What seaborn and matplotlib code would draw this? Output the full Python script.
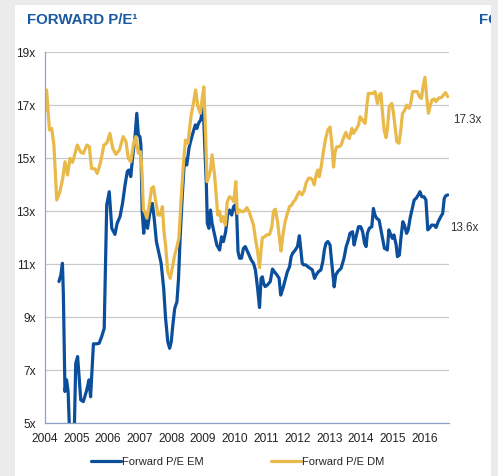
import numpy as np
import pandas as pd
import matplotlib
matplotlib.use('Agg')
import matplotlib.pyplot as plt
from matplotlib.patches import Rectangle
import seaborn as sns

# values (decimal year, P/E multiple)
em_year = [2004.45, 2004.51, 2004.56, 2004.59, 2004.64, 2004.69, 2004.74, 2004.79, 2004.86, 2004.93,
           2004.98, 2005.04, 2005.14, 2005.22, 2005.33, 2005.40, 2005.45, 2005.54, 2005.64, 2005.72,
           2005.80, 2005.88, 2005.96, 2006.04, 2006.12, 2006.22, 2006.29, 2006.38, 2006.46, 2006.54,
           2006.61, 2006.66, 2006.72, 2006.78, 2006.85, 2006.91, 2006.96, 2007.01, 2007.04, 2007.08,
           2007.13, 2007.17, 2007.21, 2007.25, 2007.32, 2007.40, 2007.46, 2007.53, 2007.60, 2007.68,
           2007.76, 2007.82, 2007.89, 2007.95, 2008.00, 2008.05, 2008.11, 2008.18, 2008.23, 2008.28,
           2008.35, 2008.42, 2008.49, 2008.56, 2008.61, 2008.68, 2008.76, 2008.81, 2008.86, 2008.93,
           2009.00, 2009.03, 2009.07, 2009.11, 2009.14, 2009.19, 2009.24, 2009.29, 2009.37, 2009.44,
           2009.53, 2009.59, 2009.65, 2009.72, 2009.78, 2009.84, 2009.91, 2009.97, 2010.02, 2010.07,
           2010.11, 2010.16, 2010.22, 2010.28, 2010.34, 2010.39, 2010.46, 2010.53, 2010.60, 2010.66,
           2010.73, 2010.79, 2010.84, 2010.88, 2010.92, 2010.97, 2011.04, 2011.13, 2011.20, 2011.26,
           2011.34, 2011.41, 2011.46, 2011.53, 2011.60, 2011.67, 2011.74, 2011.79, 2011.84, 2011.92,
           2011.99, 2012.05, 2012.09, 2012.14, 2012.18, 2012.25, 2012.32, 2012.39, 2012.46, 2012.53,
           2012.58, 2012.65, 2012.73, 2012.79, 2012.84, 2012.89, 2012.95, 2013.02, 2013.07, 2013.15,
           2013.20, 2013.28, 2013.37, 2013.46, 2013.53, 2013.60, 2013.65, 2013.73, 2013.78, 2013.84,
           2013.92, 2013.99, 2014.05, 2014.11, 2014.16, 2014.20, 2014.26, 2014.34, 2014.39, 2014.44,
           2014.49, 2014.57, 2014.62, 2014.68, 2014.74, 2014.79, 2014.83, 2014.88, 2014.94, 2014.99,
           2015.04, 2015.11, 2015.15, 2015.21, 2015.26, 2015.32, 2015.37, 2015.44, 2015.49, 2015.55,
           2015.62, 2015.68, 2015.74, 2015.81, 2015.86, 2015.92, 2015.99, 2016.05, 2016.11, 2016.16,
           2016.23, 2016.31, 2016.37, 2016.44, 2016.52, 2016.58, 2016.63, 2016.68, 2016.74]
em_pe = [10.35, 10.6, 11.04, 9.84, 6.2, 6.64, 6.2, 4.5, 4.3, 4.4,
         7.26, 7.52, 5.88, 5.82, 6.26, 6.64, 6.0, 8.0, 8.0, 8.02,
         8.27, 8.58, 13.24, 13.74, 12.36, 12.13, 12.55, 12.8, 13.3, 14.0,
         14.5, 14.56, 14.31, 15.06, 15.75, 16.7, 15.88, 15.82, 15.5, 12.99,
         12.17, 12.86, 12.61, 12.36, 12.92, 13.3, 12.74, 11.86, 11.48, 11.04,
         10.1, 8.97, 8.08, 7.83, 8.08, 8.71, 9.34, 9.59, 10.47, 11.98,
         13.62, 15.0, 14.75, 15.38, 15.63, 15.94, 16.26, 16.13, 16.32, 16.45,
         16.89, 16.38, 15.13, 14.0, 12.55, 12.36, 13.05, 12.55, 12.11, 11.73,
         11.54, 12.04, 11.86, 12.23, 12.86, 13.05, 12.86, 13.18, 13.24, 12.86,
         11.48, 11.23, 11.23, 11.6, 11.67, 11.54, 11.35, 11.16, 11.04, 10.79,
         10.09, 9.37, 10.47, 10.53, 10.28, 10.16, 10.22, 10.35, 10.82, 10.72,
         10.6, 10.47, 9.84, 10.09, 10.41, 10.72, 10.91, 11.29, 11.42, 11.54,
         11.67, 12.08, 11.6, 11.04, 10.98, 10.98, 10.91, 10.85, 10.79, 10.47,
         10.6, 10.72, 10.79, 11.1, 11.54, 11.79, 11.86, 11.73, 11.1, 10.15,
         10.6, 10.75, 10.85, 11.23, 11.67, 11.92, 12.17, 12.23, 11.73, 12.04,
         12.42, 12.42, 12.23, 11.79, 11.67, 12.17, 12.36, 12.42, 13.11, 12.86,
         12.74, 12.67, 12.36, 11.98, 11.6, 11.58, 11.54, 12.3, 12.11, 11.98,
         12.11, 11.73, 11.29, 11.35, 11.98, 12.61, 12.48, 12.17, 12.3, 12.74,
         13.11, 13.43, 13.49, 13.62, 13.74, 13.55, 13.55, 13.43, 12.3, 12.36,
         12.48, 12.48, 12.39, 12.61, 12.8, 12.92, 13.49, 13.59, 13.62]

dm_year = [2004.00, 2004.06, 2004.15, 2004.22, 2004.29, 2004.38, 2004.48, 2004.57, 2004.64, 2004.72,
           2004.80, 2004.88, 2005.03, 2005.14, 2005.22, 2005.33, 2005.41, 2005.48, 2005.59, 2005.66,
           2005.77, 2005.87, 2005.96, 2006.06, 2006.15, 2006.25, 2006.36, 2006.48, 2006.57, 2006.64,
           2006.72, 2006.80, 2006.88, 2006.96, 2007.03, 2007.07, 2007.12, 2007.16, 2007.23, 2007.32,
           2007.38, 2007.44, 2007.51, 2007.58, 2007.65, 2007.72, 2007.77, 2007.82, 2007.89, 2007.97,
           2008.03, 2008.11, 2008.18, 2008.24, 2008.32, 2008.39, 2008.45, 2008.53, 2008.58, 2008.63,
           2008.71, 2008.77, 2008.84, 2008.92, 2008.98, 2009.03, 2009.08, 2009.13, 2009.19, 2009.24,
           2009.29, 2009.37, 2009.42, 2009.47, 2009.53, 2009.58, 2009.63, 2009.71, 2009.77, 2009.84,
           2009.92, 2009.98, 2010.04, 2010.09, 2010.16, 2010.23, 2010.29, 2010.34, 2010.39, 2010.46,
           2010.53, 2010.60, 2010.66, 2010.73, 2010.79, 2010.84, 2010.88, 2010.95, 2011.02, 2011.11,
           2011.18, 2011.23, 2011.29, 2011.36, 2011.42, 2011.47, 2011.53, 2011.60, 2011.67, 2011.74,
           2011.81, 2011.86, 2011.92, 2011.99, 2012.05, 2012.13, 2012.20, 2012.26, 2012.34, 2012.41,
           2012.47, 2012.52, 2012.58, 2012.63, 2012.68, 2012.74, 2012.81, 2012.88, 2012.95, 2013.02,
           2013.07, 2013.13, 2013.18, 2013.23, 2013.31, 2013.37, 2013.44, 2013.52, 2013.57, 2013.63,
           2013.71, 2013.76, 2013.83, 2013.92, 2013.97, 2014.04, 2014.13, 2014.18, 2014.23, 2014.31,
           2014.37, 2014.44, 2014.52, 2014.58, 2014.63, 2014.67, 2014.73, 2014.79, 2014.83, 2014.89,
           2014.97, 2015.02, 2015.07, 2015.13, 2015.20, 2015.25, 2015.31, 2015.37, 2015.44, 2015.52,
           2015.58, 2015.63, 2015.71, 2015.78, 2015.84, 2015.91, 2015.95, 2016.02, 2016.07, 2016.13,
           2016.18, 2016.24, 2016.31, 2016.37, 2016.44, 2016.49, 2016.55, 2016.60, 2016.67, 2016.74]
dm_pe = [16.76, 17.58, 16.07, 16.13, 15.5, 13.43, 13.74, 14.25, 14.87, 14.37,
         15.0, 14.85, 15.5, 15.23, 15.19, 15.5, 15.44, 14.62, 14.6, 14.43,
         14.87, 15.5, 15.57, 15.94, 15.38, 15.15, 15.31, 15.82, 15.63, 15.0,
         14.87, 15.5, 15.82, 15.19, 15.25, 14.6, 13.05, 13.0, 12.74, 13.36,
         13.87, 13.93, 13.36, 12.86, 12.86, 13.18, 12.23, 11.73, 10.72, 10.47,
         10.85, 11.35, 11.67, 11.98, 13.62, 14.88, 15.69, 15.57, 16.13, 16.64,
         17.14, 17.58, 16.96, 16.7, 17.27, 17.7, 16.13, 14.12, 14.31, 14.56,
         15.13, 14.37, 13.62, 12.86, 13.0, 12.61, 12.8, 12.48, 13.36, 13.55,
         13.49, 13.36, 14.12, 12.92, 13.05, 12.99, 12.99, 13.05, 13.14, 12.99,
         12.74, 12.48, 11.98, 11.48, 10.87, 11.54, 12.0, 12.04, 12.11, 12.13,
         12.42, 12.99, 13.08, 12.61, 11.98, 11.5, 12.11, 12.61, 12.92, 13.18,
         13.24, 13.36, 13.43, 13.62, 13.74, 13.62, 13.77, 14.06, 14.25, 14.25,
         14.18, 14.0, 14.37, 14.56, 14.31, 14.69, 15.25, 15.75, 16.07, 16.18,
         15.63, 14.67, 15.25, 15.44, 15.44, 15.5, 15.75, 15.98, 15.82, 15.75,
         16.13, 15.94, 16.07, 16.26, 16.57, 16.45, 16.32, 16.95, 17.45, 17.45,
         17.45, 17.52, 17.07, 17.39, 17.45, 16.82, 16.07, 15.78, 16.07, 16.95,
         17.07, 16.76, 16.26, 15.63, 15.57, 16.0, 16.7, 16.79, 17.01, 16.89,
         17.14, 17.52, 17.52, 17.52, 17.33, 17.26, 17.64, 18.06, 17.39, 16.7,
         16.95, 17.2, 17.24, 17.14, 17.26, 17.29, 17.3, 17.39, 17.48, 17.33]

series_names = ['Forward P/E EM', 'Forward P/E DM']
year_ticks = list(range(2004, 2017))
pe_ticks = [5, 7, 9, 11, 13, 15, 17, 19]
last_labels = ['17.3x', '13.6x']

df = pd.concat([
    pd.DataFrame({'year': em_year, 'pe': em_pe, 'series': series_names[0]}),
    pd.DataFrame({'year': dm_year, 'pe': dm_pe, 'series': series_names[1]}),
])

sns.set_style('white')
plt.rcParams['font.family'] = ['Liberation Sans', 'DejaVu Sans']

blue = '#0b4f9c'
gold = '#e9b949'
axis_col = '#8fa3c9'
title_col = '#1a5aa2'

fig = plt.figure(figsize=(4.98, 4.76), dpi=100, facecolor='#ebebeb')
# white card behind the chart
fig.patches.append(Rectangle((15 / 498, 0), 476 / 498, 1 - 5 / 476, transform=fig.transFigure,
                             facecolor='white', edgecolor='none', zorder=-10))
ax = fig.add_axes([0.0898, 0.1107, 0.8118, 0.7793])
ax.set_zorder(2)
ax.set_facecolor('white')

sns.lineplot(data=df, x='year', y='pe', hue='series', palette=[blue, gold],
             linewidth=2.3, ax=ax, sort=False, estimator=None)

ax.set_xlim(2004.0, 2016.78)
ax.set_ylim(5, 19)
ax.set_xticks(year_ticks)
ax.set_xticklabels([str(y) for y in year_ticks])
ax.set_yticks(pe_ticks)
ax.set_yticklabels([f'{v}x' for v in pe_ticks])
ax.yaxis.grid(True, color='#c9c9c9', linewidth=0.9)
ax.set_axisbelow(True)
ax.set_xlabel('')
ax.set_ylabel('')
for s in ['top', 'right']:
    ax.spines[s].set_visible(False)
for s in ['left', 'bottom']:
    ax.spines[s].set_color(axis_col)
    ax.spines[s].set_linewidth(0.9)
ax.tick_params(axis='both', which='both', direction='out', length=4, width=0.8,
               color=axis_col, labelsize=8.6, labelcolor='#222222', pad=2.5)
ax.tick_params(axis='x', pad=3)

handles, labels = ax.get_legend_handles_labels()
ax.legend(handles, labels, loc='center', bbox_to_anchor=(0.477, 0.029),
          bbox_transform=fig.transFigure, ncol=2, frameon=False, fontsize=8,
          handlelength=2.7, handletextpad=0.15, columnspacing=6.0)

fig.text(0.054, 0.959, 'FORWARD P/E\u00b9', fontsize=10.8, fontweight='bold',
         color=title_col, va='center', ha='left')
# start of the neighbouring panel's title, cut by the card edge as in the reference
fig.text(0.962, 0.959, 'FORWARD', fontsize=10.8, fontweight='bold',
         color=title_col, va='center', ha='left', zorder=1)
fig.patches.append(Rectangle((491 / 498, 0), 7 / 498, 1, transform=fig.transFigure,
                             facecolor='#ebebeb', edgecolor='none', zorder=5))

fig.text(453 / 498, 1 - 120 / 476, last_labels[0], fontsize=8.4, color='#333333', va='center', ha='left')
fig.text(450 / 498, 1 - 228 / 476, last_labels[1], fontsize=8.4, color='#333333', va='center', ha='left')

fig.savefig('out.png', dpi=100, facecolor=fig.get_facecolor())
